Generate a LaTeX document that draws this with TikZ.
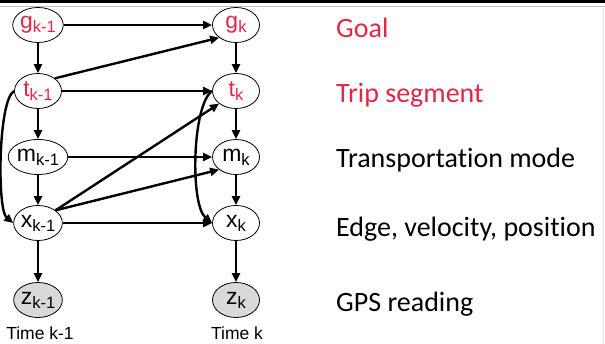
\documentclass[tikz,border=0pt]{standalone}
\usepackage{fontspec}
\setmainfont{Liberation Sans}
\newfontfamily\legendfont[Ligatures=CommonOff]{Carlito}
\usetikzlibrary{arrows.meta,shapes.geometric}
\definecolor{redtxt}{RGB}{224,40,74}
\definecolor{zfill}{RGB}{217,217,217}
\newcommand{\nlab}[2]{{\fontsize{23}{23}\selectfont #1}{\fontsize{16.5}{16.5}\selectfont\raisebox{-4pt}{#2}}}
\begin{document}
\begin{tikzpicture}[x=1pt,y=-1pt,
  var/.style={ellipse,draw=black,line width=0.8pt,minimum width=47pt,minimum height=35pt,inner sep=0pt,fill=white},
  hid/.style={var,text=redtxt},
  obs/.style={var,fill=zfill},
  edge/.style={line width=2.4pt,-{Triangle[length=9pt,width=8pt]}},
  legend/.style={anchor=base west,font=\legendfont\fontsize{28}{28}\selectfont,inner sep=0pt},
  timelab/.style={font=\fontsize{17.5}{17.5}\selectfont,inner sep=0pt,anchor=base}]
\useasboundingbox (0,0) rectangle (605,344);
\fill[white] (0,0) rectangle (605,344);
\fill[black] (0,0) rectangle (605,3);
\draw[gray!50,line width=1pt] (0,6.5) -- (605,6.5);
\draw[gray!20,line width=1pt] (603.5,7) -- (603.5,344);
% nodes
\node[hid] (g1) at (38,25) {\nlab{g}{k-1}};
\node[hid] (t1) at (38,91) {\nlab{t}{k-1}};
\node[var] (m1) at (38,157) {\nlab{m}{k-1}};
\node[var] (x1) at (38,223) {\nlab{x}{k-1}};
\node[obs] (z1) at (38,300) {\nlab{z}{k-1}};
\node[hid] (g2) at (236,25) {\nlab{g}{k}};
\node[hid] (t2) at (236,91) {\nlab{t}{k}};
\node[var] (m2) at (236,157) {\nlab{m}{k}};
\node[var] (x2) at (236,223) {\nlab{x}{k}};
\node[obs] (z2) at (236,300) {\nlab{z}{k}};
\node[timelab] (tl1) at (40,340) {Time k-1};
\node[timelab] (tl2) at (237,340) {Time k};
% legend
\node[legend,text=redtxt] (lg) at (336,38) {Goal};
\node[legend,text=redtxt] (lt) at (336,103) {Trip segment};
\node[legend] (lm) at (336,168) {Transportation mode};
\node[legend] (lx) at (336,237) {Edge, velocity, position};
\node[legend] (lz) at (336,312) {GPS reading};
% edges
\draw[edge] (g1) -- (g2);
\draw[edge] (g1) -- (t1);
\draw[edge] (t1.north east) -- (g2.south west);
\draw[edge] (t1) -- (t2);
\draw[edge] (t1) -- (m1);
\draw[edge] (m1) -- (m2);
\draw[edge] (m1) -- (x1);
\draw[edge] (x1) -- (x2);
\draw[edge] (x1) -- (z1);
\draw[edge] (x1.north east) -- (t2.south west);
\draw[edge] (x1.north east) -- (m2.south west);
\draw[edge] (g2) -- (t2);
\draw[edge] (t2) -- (m2);
\draw[edge] (m2) -- (x2);
\draw[edge] (x2) -- (z2);
\draw[edge] (t1.west) .. controls (-2,100) and (-3,210) .. (x1.west);
\draw[edge] (t2.west) .. controls (192,105) and (190,205) .. (x2.west);
\end{tikzpicture}
\end{document}
